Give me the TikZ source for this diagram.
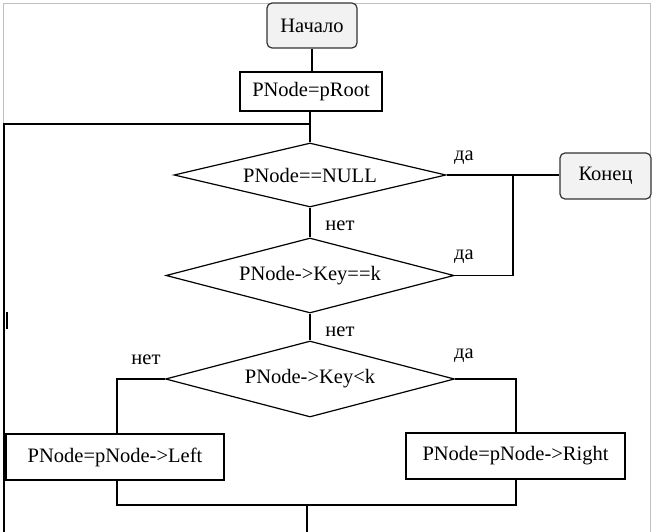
\documentclass[tikz,border=0pt]{standalone}
\usepackage{fontspec}
\setmainfont{Liberation Serif}
\usetikzlibrary{shapes.geometric,calc}
\definecolor{termfill}{HTML}{F2F2F2}
\definecolor{framegray}{HTML}{C0C0C0}
\begin{document}
\begin{tikzpicture}[x=1pt,y=-1pt,
  font=\fontsize{20.5}{24}\selectfont,
  line/.style={line width=1.2pt},
  term/.style={draw=black!80, line width=1.2pt, fill=termfill, rounded corners=5pt, inner sep=0pt},
  proc/.style={draw, line width=1.2pt, inner sep=0pt},
  decision/.style={draw, diamond, line width=1.2pt, inner sep=0pt, shape aspect=4},
  lbl/.style={inner sep=0pt}]
\useasboundingbox (0,0) rectangle (654,532);
% gray frame
\draw[framegray, line width=1pt] (3,545) -- (3,4) -- (650,4) -- (650,545);
% nodes
\node[term, minimum width=90, minimum height=45] (start) at (312,25.5) {Начало};
\node[proc, minimum width=142, minimum height=39] (proot) at (311,91.5) {PNode=pRoot};
\node[decision, minimum width=272, minimum height=64] (d1) at (310,175) {PNode==NULL};
\node[term, minimum width=91, minimum height=46] (end) at (605.5,176) {Конец};
\node[decision, minimum width=288, minimum height=75] (d2) at (310,275.5) {PNode->Key==k};
\node[decision, minimum width=289, minimum height=76] (d3) at (310,379) {PNode->Key<k};
\node[proc, minimum width=218, minimum height=46] (left) at (115,457) {PNode=pNode->Left};
\node[proc, minimum width=219, minimum height=46] (right) at (515.5,456) {PNode=pNode->Right};
% labels
\node[lbl] (l1) at (464,158) {да};
\node[lbl] (l2) at (340,226) {нет};
\node[lbl] (l3) at (464,257) {да};
\node[lbl] (l4) at (340,332) {нет};
\node[lbl] (l5) at (146,360) {нет};
\node[lbl] (l6) at (464,356) {да};
% coordinates
\coordinate (loopj) at (310,124);
\coordinate (loopc) at (4,124);
\coordinate (loopb) at (4,532);
\coordinate (endj) at (513,175);
\coordinate (d2r) at (513,275.5);
\coordinate (lc) at (117,379);
\coordinate (rc) at (516,379);
\coordinate (lb) at (117,505);
\coordinate (rb) at (516,505);
\coordinate (mb) at (307,505);
\coordinate (bot) at (307,532);
% connectors
\draw[line] (start.south) -- (start.south |- proot.north);
\draw[line] (proot.south -| d1.north) -- (d1.north);
\draw[line] (loopb) -- (loopc) -- (loopj);
\draw[line] (d1.east) -- (d1.east -| end.west);
\draw[line] (d1.south) -- (d2.north);
\draw[line] (d2.east) -- (d2r) -- (endj);
\draw[line] (d2.south) -- (d3.north);
\draw[line] (d3.west) -- (lc) -- (lc |- left.north);
\draw[line] (d3.east) -- (rc) -- (rc |- right.north);
\draw[line] (lb |- left.south) -- (lb) -- (rb) -- (rb |- right.south);
\draw[line] (mb) -- (bot);
% cursor mark
\draw[line width=2pt] (6.8,312) -- (6.8,329);
\end{tikzpicture}
\end{document}
